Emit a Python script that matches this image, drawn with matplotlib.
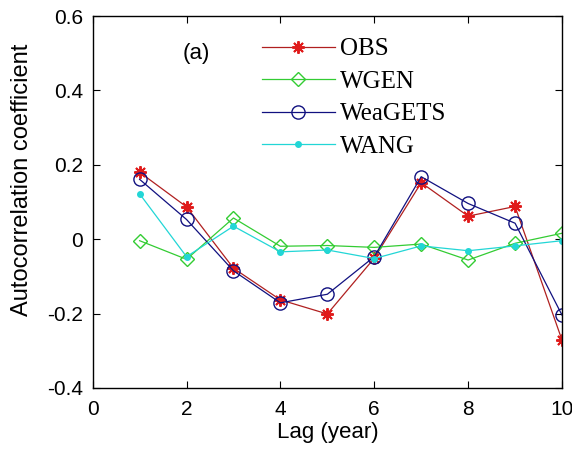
import numpy as np
import matplotlib
matplotlib.use('Agg')
import matplotlib.pyplot as plt

# Lag values and autocorrelation coefficients
lags = [1, 2, 3, 4, 5, 6, 7, 8, 9, 10]
obs = [0.18, 0.087, -0.078, -0.163, -0.201, -0.051, 0.152, 0.062, 0.088, -0.271]
wgen = [-0.004, -0.054, 0.057, -0.019, -0.017, -0.022, -0.013, -0.056, -0.011, 0.016]
weagets = [0.161, 0.053, -0.085, -0.171, -0.148, -0.047, 0.168, 0.096, 0.043, -0.204]
wang = [0.122, -0.047, 0.035, -0.034, -0.029, -0.052, -0.018, -0.031, -0.018, -0.004]

labels = ['OBS', 'WGEN', 'WeaGETS', 'WANG']
xticks = [0, 2, 4, 6, 8, 10]
yticks = [-0.4, -0.2, 0, 0.2, 0.4, 0.6]
ytick_labels = ['-0.4', '-0.2', '0', '0.2', '0.4', '0.6']

plt.rcParams['font.family'] = ['Liberation Sans', 'DejaVu Sans']

fig = plt.figure(figsize=(5.72, 4.51), dpi=100)
ax = fig.add_axes([0.162, 0.1397, 0.8205, 0.8248])

l1, = ax.plot(lags, obs, color='#b02020', lw=0.9, marker=(8, 2, 0), ms=9,
              mec='#e01b1b', mew=1.4, label=labels[0])
l2, = ax.plot(lags, wgen, color='#33cc33', lw=0.9, marker='D', ms=7.5,
              mfc='none', mec='#33cc33', mew=1.0, label=labels[1])
l3, = ax.plot(lags, weagets, color='#111180', lw=0.9, marker='o', ms=9.5,
              mfc='none', mec='#111180', mew=1.0, label=labels[2])
l4, = ax.plot(lags, wang, color='#22d6d6', lw=0.9, marker='o', ms=4,
              mfc='#22d6d6', mec='#22d6d6', label=labels[3])

ax.set_xlim(0, 10)
ax.set_ylim(-0.4, 0.6)
ax.set_xticks(xticks)
ax.set_yticks(yticks)
ax.set_yticklabels(ytick_labels)
ax.tick_params(direction='in', top=True, right=True, labelsize=15, length=5, width=0.8)
ax.tick_params(axis='x', pad=9)
ax.tick_params(axis='y', pad=7)
for s in ax.spines.values():
    s.set_linewidth(1.0)

ax.set_xlabel('Lag (year)', fontsize=16, labelpad=2)
ax.set_ylabel('Autocorrelation coefficient', fontsize=17)
ax.yaxis.set_label_coords(-0.128, 0.56)

ax.text(2.2, 0.5, '(a)', fontsize=16, ha='center', va='center')

leg = ax.legend(handles=[l1, l2, l3, l4], loc='upper left', bbox_to_anchor=(0.34, 0.968),
                frameon=False, prop={'family': 'Liberation Serif', 'size': 18},
                handlelength=2.9, handletextpad=0.2, labelspacing=0.4,
                borderaxespad=0)

plt.savefig('out.png', dpi=100)
plt.close()
